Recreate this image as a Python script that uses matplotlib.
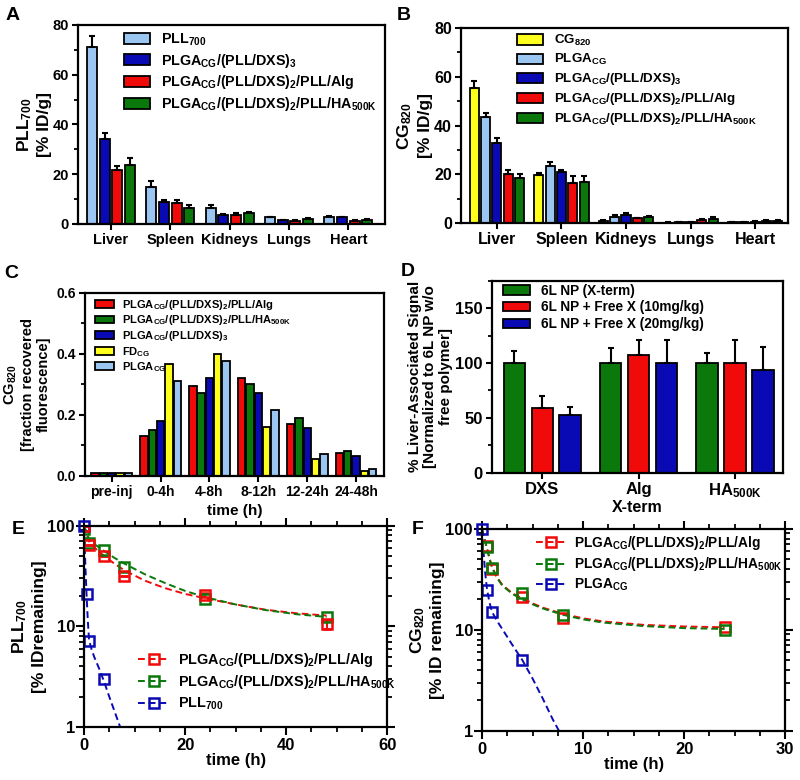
import numpy as np
import matplotlib
matplotlib.use('Agg')
import matplotlib.pyplot as plt
from matplotlib.ticker import MultipleLocator, FixedLocator, FixedFormatter, NullFormatter, LogLocator

plt.rcParams['font.family'] = ['Liberation Sans', 'DejaVu Sans']
plt.rcParams['font.weight'] = 'bold'
plt.rcParams['axes.labelweight'] = 'bold'
plt.rcParams['mathtext.fontset'] = 'custom'
plt.rcParams['mathtext.rm'] = 'Liberation Sans:bold'
plt.rcParams['mathtext.it'] = 'Liberation Sans:bold'
plt.rcParams['mathtext.bf'] = 'Liberation Sans:bold'
plt.rcParams['mathtext.sf'] = 'Liberation Sans:bold'
plt.rcParams['axes.linewidth'] = 1.6

LBLUE = '#9CC6F2'
BLUE = '#0A0AB4'
RED = '#F00A0A'
GREEN = '#0A780A'
YELLOW = '#FFFF1E'

# ---- panel A ----
organs = ['Liver', 'Spleen', 'Kidneys', 'Lungs', 'Heart']
a_labels = ['PLL$_{700}$', 'PLGA$_{CG}$/(PLL/DXS)$_{3}$',
            'PLGA$_{CG}$/(PLL/DXS)$_{2}$/PLL/Alg',
            'PLGA$_{CG}$/(PLL/DXS)$_{2}$/PLL/HA$_{500K}$']
a_pll = [71.3, 15.0, 6.3, 2.6, 2.8]
a_pll_err = [4.4, 2.3, 1.2, 0.3, 0.4]
a_dxs = [34.0, 8.8, 3.6, 1.5, 2.6]
a_dxs_err = [2.5, 0.6, 0.4, 0.2, 0.3]
a_alg = [21.6, 8.2, 3.4, 1.2, 1.2]
a_alg_err = [1.7, 1.2, 0.8, 0.2, 0.2]
a_ha = [23.5, 6.3, 4.3, 1.8, 1.5]
a_ha_err = [3.0, 1.3, 0.4, 0.6, 0.3]

# ---- panel B ----
b_labels = ['CG$_{820}$', 'PLGA$_{CG}$', 'PLGA$_{CG}$/(PLL/DXS)$_{3}$',
            'PLGA$_{CG}$/(PLL/DXS)$_{2}$/PLL/Alg',
            'PLGA$_{CG}$/(PLL/DXS)$_{2}$/PLL/HA$_{500K}$']
b_cg = [55.3, 19.6, 1.0, 0.2, 0.4]
b_cg_err = [3.0, 0.8, 0.3, 0.1, 0.1]
b_plga = [43.5, 23.5, 2.6, 0.4, 0.3]
b_plga_err = [1.7, 1.7, 0.6, 0.1, 0.1]
b_dxs = [32.8, 20.8, 3.2, 0.5, 0.6]
b_dxs_err = [1.9, 1.0, 0.9, 0.1, 0.2]
b_alg = [20.0, 16.5, 1.9, 1.2, 0.9]
b_alg_err = [1.6, 3.0, 0.3, 0.6, 0.2]
b_ha = [18.6, 17.0, 2.4, 1.6, 1.0]
b_ha_err = [1.4, 2.3, 0.4, 0.7, 0.2]

# ---- panel C ----
c_times = ['pre-inj', '0-4h', '4-8h', '8-12h', '12-24h', '24-48h']
c_labels = ['PLGA$_{CG}$/(PLL/DXS)$_{2}$/PLL/Alg',
            'PLGA$_{CG}$/(PLL/DXS)$_{2}$/PLL/HA$_{500K}$',
            'PLGA$_{CG}$/(PLL/DXS)$_{3}$', 'FD$_{CG}$', 'PLGA$_{CG}$']
c_alg = [0.010, 0.130, 0.295, 0.320, 0.170, 0.075]
c_ha = [0.010, 0.150, 0.273, 0.300, 0.188, 0.082]
c_dxs = [0.010, 0.180, 0.320, 0.270, 0.157, 0.065]
c_fd = [0.009, 0.365, 0.398, 0.160, 0.055, 0.015]
c_plga = [0.010, 0.310, 0.377, 0.215, 0.070, 0.021]

# ---- panel D ----
d_terms = ['DXS', 'Alg', 'HA$_{500K}$']
d_labels = ['6L NP (X-term)', '6L NP + Free X (10mg/kg)', '6L NP + Free X (20mg/kg)']
d_np = [100, 100, 100]
d_np_err = [11, 14, 9]
d_10 = [59, 107, 100]
d_10_err = [11, 14, 21]
d_20 = [53, 100, 94]
d_20_err = [7, 21, 21]

# ---- panel E ----
e_labels = ['PLGA$_{CG}$/(PLL/DXS)$_{2}$/PLL/Alg',
            'PLGA$_{CG}$/(PLL/DXS)$_{2}$/PLL/HA$_{500K}$', 'PLL$_{700}$']
e_t_np = [0, 1, 4, 8, 24, 48]
e_alg = [100, 64, 50, 31.5, 20.5, 10.5]
e_alg_err = [0, 0, 0, 0, 1.0, 1.0]
e_ha = [92, 68, 57, 39, 18.5, 12.3]
e_t_pll = [0, 0.5, 1, 4]
e_pll = [100, 21, 7.1, 3.0]
# fitted curves
e_fit_t = [0, 1, 2, 4, 6, 8, 12, 16, 20, 24, 30, 36, 42, 48]
e_fit_alg = [100, 70, 61, 50, 42, 36, 28.5, 24, 21, 19, 16.5, 14.6, 13.5, 12.8]
e_fit_ha = [100, 74, 66, 56, 48, 42, 33, 27, 22.5, 19.5, 16.5, 14.5, 13.2, 12.4]
e_fit_pll_t = [0, 0.15, 0.3, 0.5, 0.75, 1, 1.5, 2, 3, 4, 5, 6, 7, 8]
e_fit_pll = [100, 60, 37, 21, 11.5, 7.3, 5.9, 5.0, 3.8, 2.8, 2.0, 1.45, 1.05, 0.76]

# ---- panel F ----
f_labels = ['PLGA$_{CG}$/(PLL/DXS)$_{2}$/PLL/Alg',
            'PLGA$_{CG}$/(PLL/DXS)$_{2}$/PLL/HA$_{500K}$', 'PLGA$_{CG}$']
f_t_np = [0.5, 1, 4, 8, 24]
f_alg = [68, 40, 21, 13, 10.6]
f_ha = [66, 41, 23, 14, 10.0]
f_t_plga = [0, 0.5, 1, 4]
f_plga = [100, 25, 15, 5.0]
f_fit_t = [0, 0.25, 0.5, 0.75, 1, 1.5, 2, 3, 4, 5, 6, 8, 10, 12, 16, 20, 24]
f_fit_alg = [100, 80, 64, 51, 42, 33, 28, 23, 20.5, 18.3, 16.6, 14.4, 13.0, 12.1, 11.2, 10.8, 10.6]
f_fit_ha = [100, 79, 63, 50, 41, 32.5, 27.5, 22.7, 20, 17.9, 16.3, 14.1, 12.7, 11.8, 10.9, 10.4, 10.2]
f_fit_plga_t = [0, 0.15, 0.3, 0.5, 0.75, 1, 1.5, 2, 3, 4, 5, 6, 7, 8]
f_fit_plga = [100, 60, 38, 25, 18.5, 15, 12.2, 10.2, 7.1, 5.0, 3.3, 2.1, 1.3, 0.85]

fig = plt.figure(figsize=(8, 7.8), dpi=100)

bar_kw = dict(edgecolor='black', linewidth=1.3)
err_kw = dict(elinewidth=1.5, capthick=1.5, ecolor='black')


def style_ax(ax, size):
    ax.tick_params(axis='both', which='major', direction='out', length=4.5, width=1.5,
                   labelsize=size, pad=2)
    ax.tick_params(axis='both', which='minor', direction='out', length=3, width=1.3)


def grouped_bars(ax, series, errs, colors, labels, width, step):
    n = len(series)
    x = np.arange(len(series[0]))
    for i in range(n):
        off = (i - (n - 1) / 2) * step
        if errs is not None:
            ax.bar(x + off, series[i], width, color=colors[i], label=labels[i],
                   yerr=(np.zeros(len(errs[i])), errs[i]), capsize=2.5, error_kw=err_kw, **bar_kw)
        else:
            ax.bar(x + off, series[i], width, color=colors[i], label=labels[i], **bar_kw)
    return x


# A
axA = fig.add_axes([0.0975, 0.713, 0.384, 0.255])
x = grouped_bars(axA, [a_pll, a_dxs, a_alg, a_ha], [a_pll_err, a_dxs_err, a_alg_err, a_ha_err],
                 [LBLUE, BLUE, RED, GREEN], a_labels, 0.17, 0.213)
axA.set_xlim(-0.555, 4.62)
axA.set_ylim(0, 80)
axA.set_xticks(x)
axA.set_xticklabels(organs)
axA.yaxis.set_major_locator(MultipleLocator(20))
axA.yaxis.set_minor_locator(MultipleLocator(10))
style_ax(axA, 10.5)
axA.set_ylabel('PLL$_{700}$\n[% ID/g]', fontsize=12.5, labelpad=0, linespacing=1.3)
axA.legend(loc='upper left', bbox_to_anchor=(0.15, 0.965), frameon=False, fontsize=10.3,
           borderpad=0, borderaxespad=0, handlelength=1.8, handleheight=0.8,
           labelspacing=0.25, handletextpad=0.8)

# B
axB = fig.add_axes([0.576, 0.714, 0.409, 0.25])
x = grouped_bars(axB, [b_cg, b_plga, b_dxs, b_alg, b_ha],
                 [b_cg_err, b_plga_err, b_dxs_err, b_alg_err, b_ha_err],
                 [YELLOW, LBLUE, BLUE, RED, GREEN], b_labels, 0.14, 0.175)
axB.set_xlim(-0.56, 4.51)
axB.set_ylim(0, 80)
axB.set_xticks(x)
axB.set_xticklabels(organs)
axB.yaxis.set_major_locator(MultipleLocator(20))
axB.yaxis.set_minor_locator(MultipleLocator(10))
style_ax(axB, 11.5)
axB.set_ylabel('CG$_{820}$\n[% ID/g]', fontsize=12.5, labelpad=1, linespacing=1.3)
axB.legend(loc='upper left', bbox_to_anchor=(0.171, 0.974), frameon=False, fontsize=9.6,
           borderpad=0, borderaxespad=0, handlelength=2.0, handleheight=0.8,
           labelspacing=0.3, handletextpad=0.8)

# C
axC = fig.add_axes([0.106, 0.39, 0.374, 0.2346])
x = grouped_bars(axC, [c_alg, c_ha, c_dxs, c_fd, c_plga], None,
                 [RED, GREEN, BLUE, YELLOW, LBLUE], c_labels, 0.15, 0.17)
axC.set_xlim(-0.55, 5.57)
axC.set_ylim(0, 0.6)
axC.set_xticks(x)
axC.set_xticklabels(c_times)
axC.yaxis.set_major_locator(MultipleLocator(0.2))
axC.yaxis.set_minor_locator(MultipleLocator(0.1))
axC.yaxis.set_major_formatter(plt.FormatStrFormatter('%.1f'))
style_ax(axC, 10)
axC.set_ylabel('CG$_{820}$\n[fraction recovered\nfluorescence]', fontsize=10.5, labelpad=4,
               linespacing=1.15)
axC.set_xlabel('time (h)', fontsize=11, labelpad=4)
axC.legend(loc='upper left', bbox_to_anchor=(0.033, 0.973), frameon=False, fontsize=8,
           borderpad=0, borderaxespad=0, handlelength=1.7, handleheight=0.7,
           labelspacing=0.15, handletextpad=0.8)

# D
axD = fig.add_axes([0.615, 0.394, 0.364, 0.246])
x = grouped_bars(axD, [d_np, d_10, d_20], [d_np_err, d_10_err, d_20_err],
                 [GREEN, RED, BLUE], d_labels, 0.22, 0.29)
axD.set_xlim(-0.52, 2.5)
axD.set_ylim(0, 175)
axD.set_xticks(x)
axD.set_xticklabels(d_terms)
axD.yaxis.set_major_locator(MultipleLocator(50))
axD.yaxis.set_minor_locator(MultipleLocator(25))
style_ax(axD, 12)
axD.set_ylabel('% Liver-Associated Signal\n[Normalized to 6L NP w/o\nfree polymer]', fontsize=11,
               labelpad=2, linespacing=1.1)
axD.set_xlabel('X-term', fontsize=11.5, labelpad=0)
axD.legend(loc='upper left', bbox_to_anchor=(0.038, 0.985), frameon=False, fontsize=9.8,
           borderpad=0, borderaxespad=0, handlelength=2.0, handleheight=0.7,
           labelspacing=0.2, handletextpad=0.8)


def decay_ax(ax, xmax, xminor):
    ax.set_yscale('log')
    ax.set_ylim(1, 100)
    ax.set_xlim(0, xmax)
    ax.xaxis.set_major_locator(MultipleLocator(xmax / 3))
    ax.xaxis.set_minor_locator(MultipleLocator(xminor))
    ax.yaxis.set_major_locator(FixedLocator([1, 10, 100]))
    ax.yaxis.set_major_formatter(FixedFormatter(['1', '10', '100']))
    ax.yaxis.set_minor_locator(LogLocator(base=10, subs=np.arange(2, 10)))
    ax.yaxis.set_minor_formatter(NullFormatter())
    ax.tick_params(axis='both', which='both', direction='out', top=True, right=True,
                   labelsize=12, pad=2)
    ax.tick_params(axis='y', which='major', pad=0.5)
    ax.tick_params(axis='both', which='major', length=6, width=1.5)
    ax.tick_params(axis='both', which='minor', length=3.5, width=1.3)
    ax.set_xlabel('time (h)', fontsize=12, labelpad=0)


mk = dict(marker='s', markersize=7, markerfacecolor='none', markeredgewidth=1.8)
dash = (3.5, 2)

# E
axE = fig.add_axes([0.105, 0.068, 0.379, 0.258])
decay_ax(axE, 60, 5)
axE.plot(e_fit_t, e_fit_alg, color=RED, lw=1.4, dashes=dash)
axE.plot(e_fit_t, e_fit_ha, color=GREEN, lw=1.4, dashes=dash)
axE.plot(e_fit_pll_t, e_fit_pll, color=BLUE, lw=1.4, dashes=dash)
axE.errorbar(e_t_np, e_alg, yerr=e_alg_err, color=RED, ls='none', capsize=3, elinewidth=1.5, **mk)
axE.plot(e_t_np, e_ha, color=GREEN, ls='none', **mk)
axE.plot(e_t_pll, e_pll, color=BLUE, ls='none', **mk, clip_on=False)
hE = [plt.Line2D([], [], color=c, lw=1.4, dashes=dash, **mk) for c in [RED, GREEN, BLUE]]
axE.legend(hE, e_labels, loc='upper left', bbox_to_anchor=(0.178, 0.378), frameon=False,
           fontsize=10.4, borderpad=0, borderaxespad=0, handlelength=2.2, numpoints=1,
           labelspacing=0.3, handletextpad=0.6)
axE.set_ylabel('PLL$_{700}$\n[% IDremaining]', fontsize=12.5, labelpad=0, linespacing=1.3)

# F
axF = fig.add_axes([0.6025, 0.063, 0.379, 0.259])
decay_ax(axF, 30, 2.5)
axF.plot(f_fit_t, f_fit_alg, color=RED, lw=1.4, dashes=dash)
axF.plot(f_fit_t, f_fit_ha, color=GREEN, lw=1.4, dashes=dash)
axF.plot(f_fit_plga_t, f_fit_plga, color=BLUE, lw=1.4, dashes=dash)
axF.plot(f_t_np, f_alg, color=RED, ls='none', **mk)
axF.plot(f_t_np, f_ha, color=GREEN, ls='none', **mk)
axF.plot(f_t_plga, f_plga, color=BLUE, ls='none', **mk, clip_on=False)
hF = [plt.Line2D([], [], color=c, lw=1.4, dashes=dash, **mk) for c in [RED, GREEN, BLUE]]
axF.legend(hF, f_labels, loc='upper left', bbox_to_anchor=(0.178, 0.975), frameon=False,
           fontsize=9.9, borderpad=0, borderaxespad=0, handlelength=2.2, numpoints=1,
           labelspacing=0.25, handletextpad=0.6)
axF.set_ylabel('CG$_{820}$\n[% ID remaining]', fontsize=12.5, labelpad=0, linespacing=1.3)

# panel letters
for letter, (px, py) in zip('ABCDEF', [(13, 16), (404, 16), (11, 274), (408, 272), (18, 529), (418, 529)]):
    fig.text(px / 800, 1 - py / 780, letter, fontsize=14, fontweight='bold', ha='center', va='center')

fig.savefig('out.png', dpi=100)
